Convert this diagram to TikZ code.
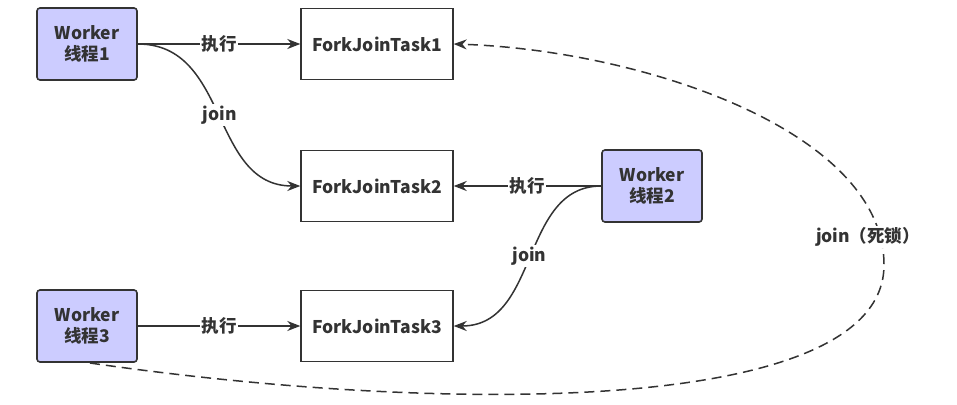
\documentclass[tikz,border=0pt]{standalone}
\usepackage{fontspec}
\setmainfont{Noto Sans CJK SC}
\usetikzlibrary{arrows.meta}
\definecolor{ink}{HTML}{333333}
\definecolor{wfill}{HTML}{CCCCFF}
\begin{document}
\begin{tikzpicture}[x=1pt,y=-1pt,
  every node/.style={font=\fontsize{17.5}{21}\selectfont\bfseries, text=ink},
  worker/.style={draw=ink, fill=wfill, line width=1.6pt, rounded corners=3pt, minimum width=100pt, minimum height=72pt, align=center},
  task/.style={draw=ink, fill=white, line width=1.4pt, minimum width=152pt, minimum height=71pt},
  conn/.style={draw=ink, line width=1.5pt, -{Stealth[length=13pt,width=10pt]}},
  lbl/.style={fill=white, inner sep=1.5pt}]
\useasboundingbox[fill=white] (0,0) rectangle (957,404);
\node[worker] (w1) at (87,44) {Worker\\线程1};
\node[worker] (w2) at (652,186) {Worker\\线程2};
\node[worker] (w3) at (87,326) {Worker\\线程3};
\node[task] (t1) at (377,44) {ForkJoinTask1};
\node[task] (t2) at (377,186) {ForkJoinTask2};
\node[task] (t3) at (377,326) {ForkJoinTask3};
\draw[conn] (w1.east) -- node[lbl] {执行} (t1.west);
\draw[conn] (w3.east) -- node[lbl] {执行} (t3.west);
\draw[conn] (w2.west) -- node[lbl] {执行} (t2.east);
\draw[conn] (w1.east) .. controls (230,44) and (210,186) .. node[lbl, pos=0.5] {join} (t2.west);
\draw[conn] (w2.west) .. controls (520,186) and (540,326) .. node[lbl, pos=0.5] {join} (t3.east);
\coordinate (start3) at (90,363);
\coordinate (far) at (884,265);
\draw[conn, dash pattern=on 10pt off 6pt] (start3) .. controls (450,415) and (884,415) .. (far)
  .. controls (884,130) and (640,50) .. (t1.east);
\node[lbl] (dl) at (868,237) {join（死锁）};
\end{tikzpicture}
\end{document}
